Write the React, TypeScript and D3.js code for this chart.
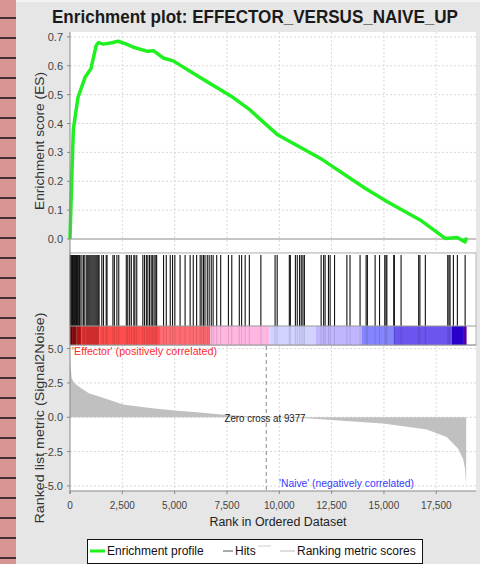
import * as d3 from "d3";

// running enrichment score
const esRanks = [0, 80, 160, 380, 720, 1000, 1250, 1350, 1600, 2000, 2300, 2700, 3000, 3700, 4000, 4450, 4930, 6200, 7800, 8600, 9160, 9940, 11950, 14100, 15140, 16730, 17930, 18500, 18880, 18950];
const esValues = [0, 0.2, 0.38, 0.49, 0.56, 0.59, 0.67, 0.68, 0.675, 0.68, 0.685, 0.675, 0.665, 0.65, 0.652, 0.627, 0.617, 0.56, 0.49, 0.447, 0.41, 0.36, 0.28, 0.176, 0.13, 0.066, 0.002, 0.005, -0.01, 0.005];

// positions of gene set members in the ranked list
const hitRanks = [20, 60, 90, 120, 150, 180, 210, 250, 280, 310, 350, 380, 420, 460, 480, 570, 650, 710,
  800, 850, 900, 950, 1000, 1050, 1100, 1150, 1200, 1250, 1300, 1350, 1390, 1520, 1600, 1730, 1770,
  2050, 2120, 2240, 2330, 2690, 2760, 2850, 2930, 3050, 3100, 3190, 3480, 3560, 3650, 3720, 3800, 3880,
  3950, 4020, 4100, 4140, 4470, 4600, 4790, 4900, 5010, 5260, 5500, 5740, 5890, 6050, 6220, 6300, 6380,
  6450, 6560, 6650, 6750, 6840, 7010, 7200, 7570, 7730, 8090, 8200, 8370, 8570, 9120, 9800, 9900, 10480,
  10530, 10770, 10860, 10970, 11050, 11130, 11200, 12000, 12120, 12190, 12350, 12430, 12640, 13230, 13380,
  13860, 14150, 14210, 14580, 14790, 15040, 15100, 15140, 15470, 15500, 15820, 16660, 16720, 16980, 18050,
  18110, 18160, 18320, 18510, 18880];

// ranked list metric (Signal2Noise)
const metricRanks = [0, 20, 80, 200, 480, 900, 1430, 2540, 3820, 5000, 6200, 7500, 9377, 11310, 13000, 14960, 17050, 18000, 18550, 18790, 18880, 18930];
const metricValues = [4.8, 3.8, 2.85, 2.5, 2.16, 1.75, 1.49, 0.92, 0.67, 0.5, 0.35, 0.17, 0, -0.07, -0.25, -0.45, -0.9, -1.44, -2.3, -3.06, -3.8, -5.0];

// heat band under the hits
const bandStarts = [0, 100, 300, 550, 1400, 4300, 6700, 9530, 11750, 13930, 15460, 18250, 18780];
const bandEnds = [100, 300, 550, 1400, 4300, 6700, 9530, 11750, 13930, 15460, 18250, 18780, 18950];
const bandColors = ["#7a0000", "#a00a0a", "#c41c1c", "#e83434", "#ff4d4d", "#ff6b72", "#ffb6e1", "#d2d2ff", "#c0b6ff", "#8585ff", "#6a55ee", "#2a00cc", "#5a00b0"];

const xTicks = [0, 2500, 5000, 7500, 10000, 12500, 15000, 17500];
const esTicks = [0, 0.1, 0.2, 0.3, 0.4, 0.5, 0.6, 0.7];
const metricTicks = [5, 2.5, 0, -2.5, -5];
const zeroCross = 9377;

const W = 484;
const H = 564;
const font = "'Liberation Sans', Arial, sans-serif";

const App = () => {
    const x = d3.scaleLinear().domain([0, 19400]).range([70, 476]);
    const yES = d3.scaleLinear().domain([-0.045, 0.717]).range([252, 32]);
    const yM = d3.scaleLinear().domain([-5.37, 5.26]).range([491, 345]);

    const esLine = d3.line<number>()
        .x((_, i) => x(esRanks[i]))
        .y(d => yES(d));
    const metricArea = d3.area<number>()
        .x((_, i) => x(metricRanks[i]))
        .y0(yM(0))
        .y1(d => yM(d));

    const stripLines = d3.range(18, H, 20);
    const fmt = d3.format(",");

    return (
        <svg width={W} height={H} style={{ position: "absolute", left: 0, top: 0 }} fontFamily={font}>
            <rect x={0} y={0} width={W} height={H} fill="#e6e6e6" />
            <rect x={480} y={0} width={4} height={H} fill="#ffffff" />
            <rect x={16} y={0} width={464} height={2} fill="#f4f4f4" />
            {/* left strip */}
            <rect x={0} y={0} width={16} height={H} fill="#d99594" />
            {stripLines.map(v => (
                <line key={v} x1={0} x2={16} y1={v} y2={v} stroke="#111" strokeWidth={1.5} />
            ))}

            <text x={255} y={23} textAnchor="middle" fontSize={18} fontWeight="bold" fill="#1a1a1a"
                textLength={406} lengthAdjust="spacingAndGlyphs">
                Enrichment plot: EFFECTOR_VERSUS_NAIVE_UP
            </text>

            {/* ES panel */}
            <rect x={70} y={32} width={406} height={220} fill="#fff" />
            {esTicks.filter(t => t > 0).map(t => (
                <line key={t} x1={70} x2={476} y1={yES(t)} y2={yES(t)} stroke="#d8d8d8" strokeDasharray="2,2" />
            ))}
            {xTicks.filter(t => t > 0).map(t => (
                <line key={t} x1={x(t)} x2={x(t)} y1={32} y2={252} stroke="#d8d8d8" strokeDasharray="2,2" />
            ))}
            <line x1={70} x2={476} y1={yES(0)} y2={yES(0)} stroke="#8a8a8a" strokeWidth={1} />
            <path d={esLine(esValues) || ""} fill="none" stroke="#1ff01f" strokeWidth={3.5} strokeLinejoin="round" />
            {esTicks.map(t => (
                <g key={t}>
                    <line x1={67} x2={70} y1={yES(t)} y2={yES(t)} stroke="#888" />
                    <text x={63} y={yES(t) + 4} textAnchor="end" fontSize={11} fill="#444">{t.toFixed(1)}</text>
                </g>
            ))}
            <text transform={`translate(44,141) rotate(-90)`} textAnchor="middle" fontSize={13} fill="#333"
                textLength={138} lengthAdjust="spacingAndGlyphs">Enrichment score (ES)</text>

            {/* hits panel */}
            <rect x={70} y={253} width={406} height={92} fill="#fff" stroke="#b8b8b8" />
            {hitRanks.map((r, i) => (
                <line key={i} x1={x(r)} x2={x(r)} y1={255} y2={326} stroke="#111" strokeWidth={1.1} />
            ))}
            {bandStarts.map((s, i) => (
                <rect key={i} x={x(s)} y={326} width={x(bandEnds[i]) - x(s)} height={19} fill={bandColors[i]} />
            ))}
            {hitRanks.map((r, i) => (
                <line key={i} x1={x(r)} x2={x(r)} y1={326} y2={345} stroke="#000" strokeOpacity={0.12} />
            ))}
            <line x1={70} x2={476} y1={326} y2={326} stroke="#999" />
            <line x1={70} x2={476} y1={345} y2={345} stroke="#999" />

            {/* ranked list metric panel */}
            <rect x={70} y={346} width={406} height={145} fill="#fff" />
            {metricTicks.map(t => (
                <line key={t} x1={70} x2={476} y1={yM(t)} y2={yM(t)} stroke="#d8d8d8" strokeDasharray="2,2" />
            ))}
            {xTicks.filter(t => t > 0).map(t => (
                <line key={t} x1={x(t)} x2={x(t)} y1={346} y2={491} stroke="#d8d8d8" strokeDasharray="2,2" />
            ))}
            <path d={metricArea(metricValues) || ""} fill="#c0c0c0" />
            <line x1={x(zeroCross)} x2={x(zeroCross)} y1={346} y2={491} stroke="#888" strokeDasharray="4,3" />
            <text x={265} y={422} textAnchor="middle" fontSize={10} fill="#222" textLength={81} lengthAdjust="spacingAndGlyphs">
                Zero cross at {zeroCross}
            </text>
            <text x={72} y={355} fontSize={10} fill="#ff2a2a" textLength={145} lengthAdjust="spacingAndGlyphs">
                'Effector' (positively correlated)
            </text>
            <text x={279} y={487} fontSize={10} fill="#3a3aff" textLength={135} lengthAdjust="spacingAndGlyphs">
                'Naive' (negatively correlated)
            </text>
            {metricTicks.map(t => (
                <g key={t}>
                    <line x1={67} x2={70} y1={yM(t)} y2={yM(t)} stroke="#888" />
                    <text x={63} y={yM(t) + 4} textAnchor="end" fontSize={11} fill="#444">{t.toFixed(1)}</text>
                </g>
            ))}
            <text transform={`translate(44,418) rotate(-90)`} textAnchor="middle" fontSize={13} fill="#333"
                textLength={211} lengthAdjust="spacingAndGlyphs">Ranked list metric (Signal2Noise)</text>

            {/* axes */}
            <line x1={70} x2={70} y1={32} y2={494} stroke="#888" />
            <line x1={70} x2={476} y1={491} y2={491} stroke="#888" />
            {xTicks.map(t => (
                <g key={t}>
                    <line x1={x(t)} x2={x(t)} y1={491} y2={494} stroke="#888" />
                    <text x={x(t)} y={509} textAnchor="middle" fontSize={10} fill="#444">{fmt(t)}</text>
                </g>
            ))}
            <text x={278} y={526} textAnchor="middle" fontSize={12} fill="#222" textLength={137} lengthAdjust="spacingAndGlyphs">
                Rank in Ordered Dataset
            </text>

            {/* legend */}
            <rect x={87.5} y={539.5} width={335} height={24} fill="#fff" stroke="#111" />
            <line x1={90} x2={105} y1={551} y2={551} stroke="#1ff01f" strokeWidth={3} />
            <text x={107} y={555} fontSize={12} fill="#111">Enrichment profile</text>
            <line x1={223} x2={233} y1={551} y2={551} stroke="#555" />
            <text x={235} y={555} fontSize={12} fill="#111">Hits</text>
            <line x1={258} x2={271} y1={546} y2={546} stroke="#ccc" />
            <line x1={280} x2={295} y1={551} y2={551} stroke="#bbb" />
            <text x={297} y={555} fontSize={12} fill="#111">Ranking metric scores</text>
        </svg>
    );
};

export default App;
